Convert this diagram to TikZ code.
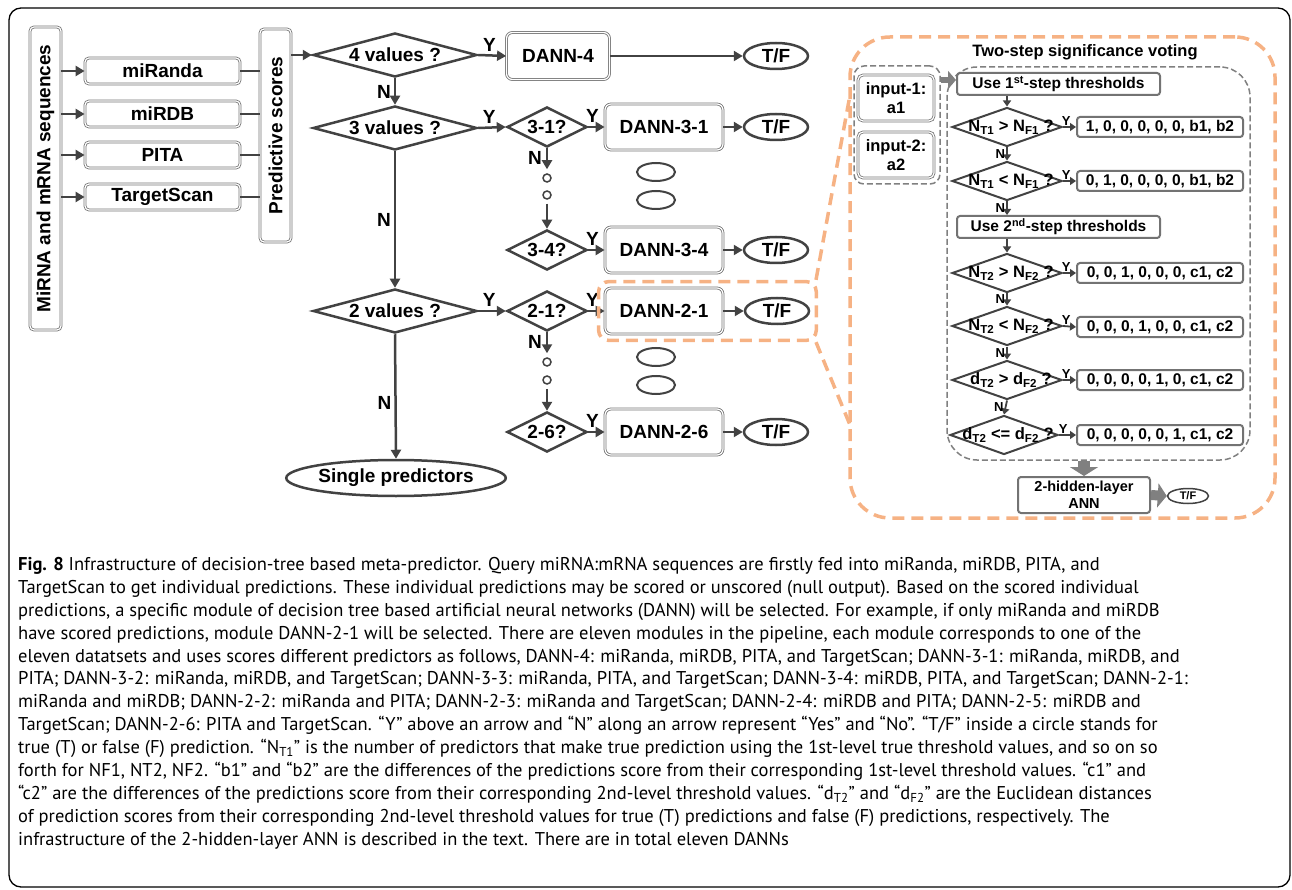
\documentclass[tikz,border=0pt]{standalone}
\usepackage{fontspec}
\setmainfont{Liberation Sans}
\newfontfamily\capfont{PT Sans}
\usetikzlibrary{shapes.geometric,arrows.meta,positioning,fit}

\definecolor{flowgray}{RGB}{66,66,66}
\definecolor{boxgray}{RGB}{115,115,115}
\definecolor{fatgray}{RGB}{128,128,128}
\definecolor{callorange}{RGB}{246,178,132}

\newcommand{\bigtxt}{\fontsize{19}{22}\selectfont\bfseries}
\newcommand{\votetxt}{\fontsize{16.5}{18}\selectfont\bfseries}
\newcommand{\steptxt}{\fontsize{15.5}{18}\selectfont\bfseries}
\newcommand{\yntxt}{\fontsize{13}{15}\selectfont\bfseries}

\begin{document}
\begin{tikzpicture}[
    x = 1pt, y = -1pt,
    tool/.style = {
        rectangle,
        rounded corners = 4pt,
        draw = boxgray,
        double = white,
        double distance = 1.2pt,
        line width = 0.8pt,
        inner sep = 0pt,
        font = \bigtxt
    },
    dann/.style = {
        tool,
        rounded corners = 6pt,
        minimum width = 118,
        minimum height = 46
    },
    decision/.style = {
        diamond,
        aspect = 3.7,
        inner sep = 0pt,
        draw = flowgray,
        line width = 2.5pt,
        minimum width = 164,
        minimum height = 44,
        font = \bigtxt
    },
    pick/.style = {
        decision,
        aspect = 2,
        minimum width = 80,
        minimum height = 40
    },
    tf/.style = {
        ellipse,
        inner sep = 0pt,
        draw = flowgray,
        line width = 2.5pt,
        minimum width = 64,
        minimum height = 26,
        font = \bigtxt
    },
    oval/.style = {
        ellipse,
        draw = flowgray,
        line width = 2pt,
        minimum width = 38,
        minimum height = 18
    },
    dot/.style = {
        circle,
        draw = flowgray,
        line width = 1.5pt,
        inner sep = 0pt,
        minimum size = 8
    },
    flow/.style = {
        -{Triangle[length=9pt,width=10pt]},
        line width = 2.5pt,
        draw = flowgray
    },
    link/.style = {
        line width = 2.5pt,
        draw = flowgray
    },
    yn/.style = {
        font = \bigtxt,
        inner sep = 1pt
    },
    orangeline/.style = {
        draw = callorange,
        line width = 3.5pt,
        dash pattern = on 12pt off 7pt
    },
    dashbox/.style = {
        rectangle,
        draw = fatgray,
        line width = 1.5pt,
        dash pattern = on 6pt off 3pt,
        rounded corners = 10pt
    },
    inbox/.style = {
        tool,
        rounded corners = 5pt,
        minimum width = 76,
        minimum height = 46,
        align = center,
        font = \fontsize{16.5}{19}\selectfont\bfseries
    },
    stepbox/.style = {
        rectangle,
        rounded corners = 3pt,
        draw = boxgray,
        line width = 2pt,
        inner sep = 0pt,
        minimum width = 203,
        minimum height = 22,
        font = \steptxt
    },
    outbox/.style = {
        stepbox,
        minimum width = 166,
        minimum height = 20
    },
    vote/.style = {
        diamond,
        aspect = 2.8,
        inner sep = 0pt,
        draw = flowgray,
        line width = 2pt,
        minimum width = 110,
        minimum height = 39
    },
    every label/.style = {
        font = \votetxt,
        inner sep = 0pt
    },
    vflow/.style = {
        -{Triangle[length=6pt,width=8pt]},
        line width = 1.8pt,
        draw = flowgray
    },
    ysmall/.style = {
        font = \yntxt,
        inner sep = 1pt
    },
    fatarrow/.style = {
        -{Triangle[length=8pt,width=18pt]},
        line width = 6pt,
        draw = fatgray
    }
]
    \useasboundingbox (0,0) rectangle (1292,890);
    \draw [black, line width = 1.3pt, rounded corners = 12pt] (9,8) rectangle (1290,887);

    % Inputs and predictors
    \node [tool, rotate = 90, minimum width = 303, minimum height = 31] (seq) at (45.5,178.5) {MiRNA and mRNA sequences};
    \node [tool, minimum width = 155, minimum height = 26] (mirnd) at (162.5,71) {miRanda};
    \node [tool, minimum width = 155, minimum height = 26] (mirdb) at (162.5,114) {miRDB};
    \node [tool, minimum width = 155, minimum height = 26] (pita) at (162.5,155) {PITA};
    \node [tool, minimum width = 155, minimum height = 26] (tscan) at (162.5,197) {TargetScan};
    \node [tool, rotate = 90, minimum width = 213, minimum height = 31] (ps) at (275.5,135.5) {Predictive scores};

    % Decision tree
    \node [decision] (v4) at (395,55) {4 values ?};
    \node [decision] (v3) at (395,128) {3 values ?};
    \node [decision] (v2) at (395,311) {2 values ?};
    \node [tf, minimum width = 192, minimum height = 36] (single) at (396,478) {Single predictors};

    \node [pick] (d31) at (547,127) {3-1?};
    \node [dot] (c3a) at (547,178) {};
    \node [dot] (c3b) at (547,195) {};
    \node [pick] (d34) at (547,250) {3-4?};
    \node [pick] (d21) at (547,311) {2-1?};
    \node [dot] (c2a) at (547,362) {};
    \node [dot] (c2b) at (547,380) {};
    \node [pick] (d26) at (547,432) {2-6?};

    \node [dann, minimum width = 103, minimum height = 47] (dann4) at (558,56) {DANN-4};
    \node [dann] (dann31) at (664,127) {DANN-3-1};
    \node [oval] (o3a) at (656,172) {};
    \node [oval] (o3b) at (656,200) {};
    \node [dann] (dann34) at (664,250) {DANN-3-4};
    \node [dann] (dann21) at (664,311) {DANN-2-1};
    \node [oval] (o2a) at (656,357) {};
    \node [oval] (o2b) at (656,385) {};
    \node [dann] (dann26) at (664,432) {DANN-2-6};

    \node [tf] (tf4) at (776,56) {T/F};
    \node [tf] (tf31) at (776,127) {T/F};
    \node [tf] (tf34) at (776,250) {T/F};
    \node [tf] (tf21) at (777,311) {T/F};
    \node [tf] (tf26) at (776,432) {T/F};

    % Arrows
    \foreach \t in {mirnd, mirdb, pita, tscan} {
        \draw [flow] (seq.south |- \t.west) -- (\t.west);
        \draw [link] (\t.east) -- (ps.north |- \t.east);
    }
    \draw [flow] (ps.south |- v4.west) -- (v4.west);
    \draw [flow] (v4.east) -- node [yn, above = 2pt, pos = 0.4] {Y} (dann4.west);
    \draw [flow] (dann4.east) -- (tf4.west);
    \draw [flow] (v4.south) -- node [yn, left = 2pt, pos = 0.5] {N} (v3.north);
    \draw [flow] (v3.east) -- node [yn, above = 2pt, pos = 0.4] {Y} (d31.west);
    \draw [flow] (d31.east) -- node [yn, above = 2pt, pos = 0.25] {Y} (dann31.west);
    \draw [flow] (dann31.east) -- (tf31.west);
    \draw [flow, shorten >= 4pt] (d31.south) -- node [yn, left = 3pt, pos = 0.4] {N} (c3a.north);
    \draw [flow, shorten <= 4pt] (c3b.south) -- (d34.north);
    \draw [flow] (d34.east) -- node [yn, above = 2pt, pos = 0.25] {Y} (dann34.west);
    \draw [flow] (dann34.east) -- (tf34.west);
    \draw [flow] (v3.south) -- node [yn, left = 2pt, pos = 0.5] {N} (v2.north);
    \draw [flow] (v2.east) -- node [yn, above = 2pt, pos = 0.4] {Y} (d21.west);
    \draw [flow] (d21.east) -- node [yn, above = 2pt, pos = 0.25] {Y} (dann21.west);
    \draw [flow] (dann21.east) -- (tf21.west);
    \draw [flow, shorten >= 4pt] (d21.south) -- node [yn, left = 3pt, pos = 0.4] {N} (c2a.north);
    \draw [flow, shorten <= 4pt] (c2b.south) -- (d26.north);
    \draw [flow] (d26.east) -- node [yn, above = 2pt, pos = 0.25] {Y} (dann26.west);
    \draw [flow] (dann26.east) -- (tf26.west);
    \draw [flow] (v2.south) -- node [yn, left = 2pt, pos = 0.55] {N} (single.north);

    % Callout
    \node [rectangle, orangeline, rounded corners = 40pt, minimum width = 425, minimum height = 481] (callout) at (1062.5,277.5) {};
    \node [rectangle, orangeline, rounded corners = 10pt, inner sep = 6pt, fit = (dann21)(tf21)] (zoom21) {};
    \coordinate (cup) at (850,95);
    \coordinate (clow) at (850,425);
    \draw [orangeline] ([xshift = -2pt]zoom21.north east) -- (cup);
    \draw [orangeline] ([xshift = -2pt]zoom21.south east) -- (clow);

    \node [font = \fontsize{16.5}{18}\selectfont\bfseries] (title) at (1085,52) {Two-step significance voting};
    \node [dashbox, minimum width = 86, minimum height = 118] (inarea) at (897,125) {};
    \node [inbox] (in1) at (896,98) {input-1:\\a1};
    \node [inbox] (in2) at (896,155) {input-2:\\a2};
    \node [dashbox, rounded corners = 30pt, minimum width = 303, minimum height = 393] (varea) at (1098.5,263.5) {};

    \node [stepbox] (use1) at (1058.5,84) {Use 1\textsuperscript{st}-step thresholds};
    \node [stepbox] (use2) at (1058.5,227) {Use 2\textsuperscript{nd}-step thresholds};

    \node [vote, label = center:{\hspace{8pt}N\textsubscript{T1} > N\textsubscript{F1} ?}] (q1) at (1007,127) {};
    \node [vote, label = center:{\hspace{8pt}N\textsubscript{T1} < N\textsubscript{F1} ?}] (q2) at (1007,181) {};
    \node [vote, label = center:{\hspace{8pt}N\textsubscript{T2} > N\textsubscript{F2} ?}] (q3) at (1007,273) {};
    \node [vote, label = center:{\hspace{8pt}N\textsubscript{T2} < N\textsubscript{F2} ?}] (q4) at (1007,326) {};
    \node [vote, label = center:{\hspace{8pt}d\textsubscript{T2} > d\textsubscript{F2} ?}] (q5) at (1007,380) {};
    \node [vote, minimum width = 108, label = center:{\hspace{8pt}d\textsubscript{T2} <= d\textsubscript{F2} ?}] (q6) at (1004,435) {};

    \node [outbox] (r1) at (1160,127) {1, 0, 0, 0, 0, 0, b1, b2};
    \node [outbox] (r2) at (1160,181) {0, 1, 0, 0, 0, 0, b1, b2};
    \node [outbox] (r3) at (1160,273) {0, 0, 1, 0, 0, 0, c1, c2};
    \node [outbox] (r4) at (1160,327) {0, 0, 0, 1, 0, 0, c1, c2};
    \node [outbox] (r5) at (1160,380) {0, 0, 0, 0, 1, 0, c1, c2};
    \node [outbox] (r6) at (1160,435) {0, 0, 0, 0, 0, 1, c1, c2};

    \node [stepbox, minimum width = 132, minimum height = 36, align = center, font = \fontsize{14.5}{17}\selectfont\bfseries] (ann) at (1084,495) {2-hidden-layer\\ANN};
    \node [tf, line width = 1.5pt, minimum width = 41, minimum height = 15, font = \fontsize{11}{12}\selectfont\bfseries] (tfann) at (1188,496) {T/F};

    \draw [fatarrow] (inarea.east |- 0,80) -- (use1.west |- 0,80);
    \draw [vflow] (q1.north |- use1.south) -- (q1.north);
    \draw [vflow] (q1.south) -- node [ysmall, left] {N} (q2.north);
    \draw [vflow] (q2.south) -- node [ysmall, left] {N} (q2.south |- use2.north);
    \draw [vflow] (q3.north |- use2.south) -- (q3.north);
    \draw [vflow] (q3.south) -- node [ysmall, left] {N} (q4.north);
    \draw [vflow] (q4.south) -- node [ysmall, left] {N} (q5.north);
    \draw [vflow] (q5.south) -- node [ysmall, left] {N} (q6.north);
    \foreach \i in {1,...,6} {
        \draw [vflow] (q\i.east) -- node [ysmall, above, pos = 0.25] {Y} (r\i.west);
    }
    \draw [fatarrow, line width = 12pt, -{Triangle[length=9pt,width=28pt]}] (varea.south -| ann.north) -- (ann.north);
    \draw [fatarrow, line width = 10pt, -{Triangle[length=9pt,width=24pt]}] (ann.east) -- (tfann.west);

    % Caption
    \node [anchor = north west, align = left, inner sep = 0pt, font = \capfont\fontsize{18.5}{22.9}\selectfont] (caption) at (18,557) {%
\textbf{Fig. 8} Infrastructure of decision-tree based meta-predictor. Query miRNA:mRNA sequences are firstly fed into miRanda, miRDB, PITA, and\\
TargetScan to get individual predictions. These individual predictions may be scored or unscored (null output). Based on the scored individual\\
predictions, a specific module of decision tree based artificial neural networks (DANN) will be selected. For example, if only miRanda and miRDB\\
have scored predictions, module DANN-2-1 will be selected. There are eleven modules in the pipeline, each module corresponds to one of the\\
eleven datatsets and uses scores different predictors as follows, DANN-4: miRanda, miRDB, PITA, and TargetScan; DANN-3-1: miRanda, miRDB, and\\
PITA; DANN-3-2: miRanda, miRDB, and TargetScan; DANN-3-3: miRanda, PITA, and TargetScan; DANN-3-4: miRDB, PITA, and TargetScan; DANN-2-1:\\
miRanda and miRDB; DANN-2-2: miRanda and PITA; DANN-2-3: miRanda and TargetScan; DANN-2-4: miRDB and PITA; DANN-2-5: miRDB and\\
TargetScan; DANN-2-6: PITA and TargetScan. “Y” above an arrow and “N” along an arrow represent “Yes” and “No”. “T/F” inside a circle stands for\\
true (T) or false (F) prediction. “N\textsubscript{T1}” is the number of predictors that make true prediction using the 1st-level true threshold values, and so on so\\
forth for NF1, NT2, NF2. “b1” and “b2” are the differences of the predictions score from their corresponding 1st-level threshold values. “c1” and\\
“c2” are the differences of the predictions score from their corresponding 2nd-level threshold values. “d\textsubscript{T2}” and “d\textsubscript{F2}” are the Euclidean distances\\
of prediction scores from their corresponding 2nd-level threshold values for true (T) predictions and false (F) predictions, respectively. The\\
infrastructure of the 2-hidden-layer ANN is described in the text. There are in total eleven DANNs};

\end{tikzpicture}
\end{document}
